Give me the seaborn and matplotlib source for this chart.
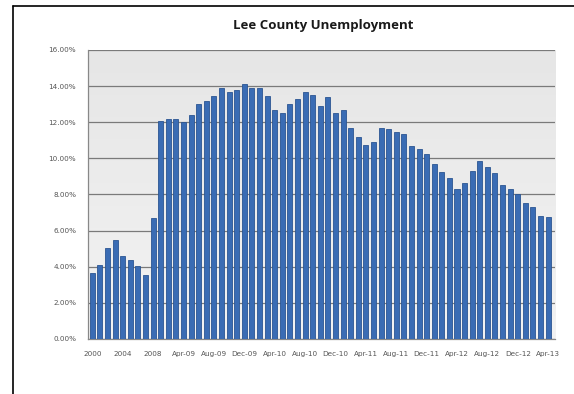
import numpy as np
import pandas as pd
import matplotlib
matplotlib.use("Agg")
import matplotlib.pyplot as plt
import seaborn as sns

# Annual averages 2000-2008, then monthly Jan-09 .. Apr-13
years = ["2000", "2001", "2002", "2003", "2004", "2005", "2006", "2007", "2008"]
annual_rates = [3.67, 4.10, 5.02, 5.46, 4.59, 4.37, 4.04, 3.52, 6.71]

month_names = ["Jan", "Feb", "Mar", "Apr", "May", "Jun",
               "Jul", "Aug", "Sep", "Oct", "Nov", "Dec"]
monthly_rates = [
    # 2009
    12.06, 12.19, 12.19, 11.99, 12.40, 13.00, 13.19, 13.47, 13.87, 13.69, 13.78, 14.09,
    # 2010
    13.87, 13.87, 13.47, 12.67, 12.49, 13.00, 13.28, 13.67, 13.49, 12.88, 13.39, 12.49,
    # 2011
    12.67, 11.68, 11.18, 10.75, 10.90, 11.68, 11.62, 11.47, 11.33, 10.70, 10.50, 10.22,
    # 2012
    9.70, 9.22, 8.91, 8.30, 8.65, 9.30, 9.83, 9.50, 9.20, 8.50, 8.30, 8.02,
    # 2013
    7.51, 7.29, 6.79, 6.77,
]
months = [f"{month_names[i % 12]}-{9 + i // 12:02d}" for i in range(len(monthly_rates))]

periods = years + months
rates = annual_rates + monthly_rates
df = pd.DataFrame({"period": periods, "rate": rates})

sns.set_style("white")
plt.rcParams["font.family"] = ["DejaVu Sans"]

fig = plt.figure(figsize=(5.74, 3.94), dpi=100)
fig.patch.set_facecolor("white")
ax = fig.add_axes([0.1533, 0.1396, 0.8136, 0.7335])

# soft gradient behind the bars
grad = np.linspace(0, 1, 256).reshape(-1, 1)
ax.imshow(grad, extent=[-0.57, 60.9, 0, 16], aspect="auto",
          cmap=matplotlib.colors.LinearSegmentedColormap.from_list(
              "bg", ["#f3f3f3", "#e6e6e6"]),
          origin="lower", zorder=0)

sns.barplot(data=df, x="period", y="rate", color="#3a6cb4", saturation=1,
            width=0.66, edgecolor="#2b5592", linewidth=0.6, ax=ax, zorder=3)

ax.set_xlim(-0.57, 60.9)
ax.set_ylim(0, 16)
ax.set_yticks(np.arange(0, 17, 2))
ax.set_yticklabels([f"{v:.2f}%" for v in np.arange(0, 17, 2)],
                   fontsize=5.2, color="#555555")
ax.yaxis.grid(True, color="#7a7a7a", linewidth=0.9, zorder=1)
ax.set_axisbelow(True)

tick_pos = list(range(0, len(periods), 4))
ax.set_xticks(tick_pos)
ax.set_xticklabels([periods[i] for i in tick_pos], fontsize=5.2, color="#555555")
ax.tick_params(axis="both", length=2.5, width=0.6, color="#888888", pad=6)
ax.set_xlabel("")
ax.set_ylabel("")

for side in ["top", "right"]:
    ax.spines[side].set_visible(False)
for side in ["left", "bottom"]:
    ax.spines[side].set_color("#888888")
    ax.spines[side].set_linewidth(0.9)

fig.text(0.563, 0.935, "Lee County Unemployment", ha="center", va="center",
         fontsize=9.5, fontweight="bold", family="Open Sans", color="#1a1a1a")

# frame lines of the chart sheet
fig.add_artist(plt.Line2D([13 / 574, 1], [1 - 6 / 394, 1 - 6 / 394],
                          color="black", linewidth=1.2, transform=fig.transFigure))
fig.add_artist(plt.Line2D([13 / 574, 13 / 574], [0, 1 - 6 / 394],
                          color="black", linewidth=1.2, transform=fig.transFigure))

fig.savefig("out.png", dpi=100, facecolor="white")
